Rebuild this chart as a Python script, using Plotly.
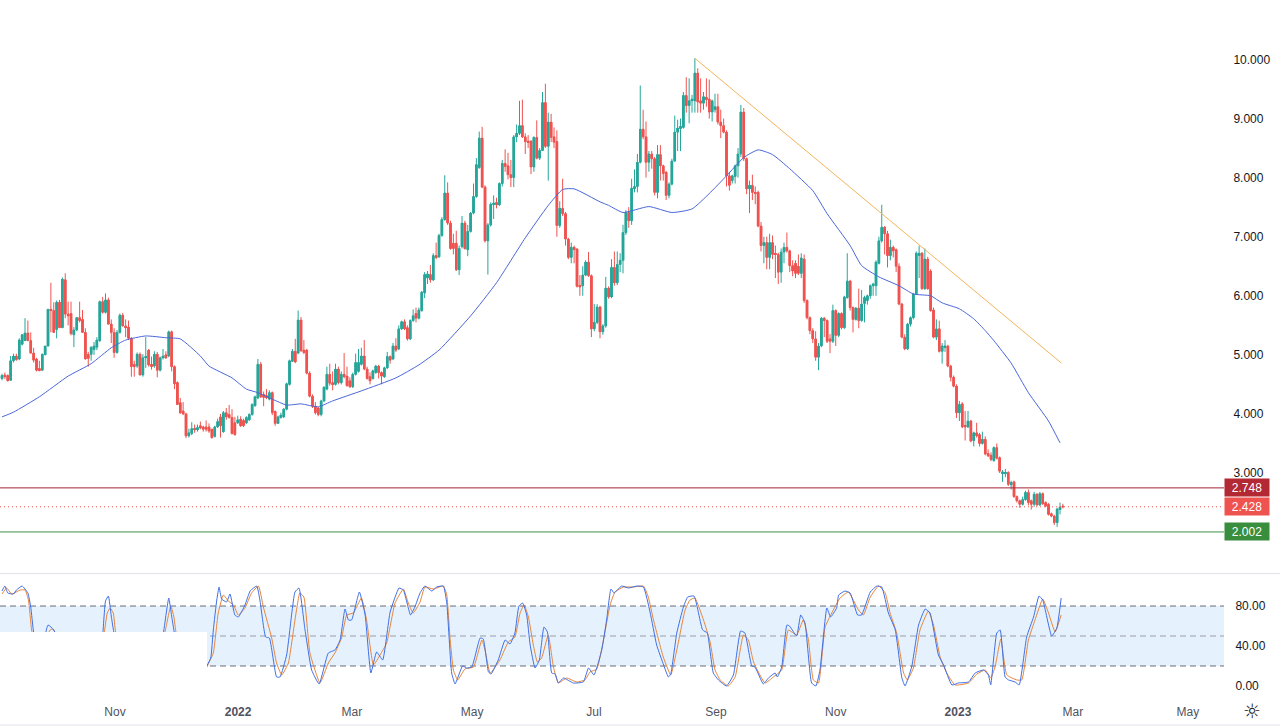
import plotly.graph_objects as go

# daily candles
opens = [
    4.60, 4.66, 4.65, 4.57, 4.90, 4.98, 4.93, 5.18, 5.24, 5.37,
    5.24, 5.03, 4.93, 4.77, 4.74, 5.00, 5.15, 5.77, 5.75, 5.43,
    5.89, 5.46, 6.27, 5.69, 5.70, 5.34, 5.42, 5.63, 5.60, 5.38,
    5.01, 5.01, 5.09, 5.13, 5.24, 5.90, 5.72, 5.93, 5.52, 5.38,
    5.04, 5.38, 5.67, 5.49, 5.47, 5.28, 4.84, 4.81, 5.01, 4.66,
    4.95, 5.08, 4.84, 4.81, 5.01, 4.74, 4.95, 5.00, 4.98, 5.39,
    4.80, 4.53, 4.19, 4.05, 4.00, 3.63, 3.67, 3.75, 3.73, 3.80,
    3.78, 3.78, 3.78, 3.74, 3.62, 3.78, 3.95, 3.70, 4.02, 3.99,
    3.94, 3.85, 3.85, 3.91, 3.89, 3.85, 3.90, 3.99, 4.14, 4.27,
    4.84, 4.33, 4.31, 4.25, 4.36, 4.04, 3.84, 3.94, 3.95, 4.08,
    4.50, 4.89, 5.06, 5.03, 5.59, 5.08, 5.08, 4.69, 4.30, 4.13,
    4.10, 3.99, 4.22, 4.42, 4.67, 4.53, 4.50, 4.76, 4.53, 4.67,
    4.64, 4.56, 4.46, 4.67, 4.72, 4.84, 4.98, 4.76, 4.63, 4.60,
    4.70, 4.81, 4.70, 4.63, 4.78, 4.97, 4.93, 5.15, 5.10, 5.44,
    5.56, 5.46, 5.27, 5.58, 5.70, 5.62, 5.75, 6.05, 6.30, 6.36,
    6.27, 6.68, 6.66, 7.02, 7.29, 7.74, 7.23, 6.89, 6.89, 6.44,
    6.83, 7.23, 6.78, 7.09, 7.40, 7.68, 8.17, 8.67, 7.84, 6.93,
    7.20, 7.55, 7.58, 7.54, 7.90, 8.24, 8.20, 8.05, 8.00, 8.69,
    8.75, 8.88, 8.69, 8.62, 8.62, 8.18, 8.68, 8.33, 8.46, 9.27,
    8.53, 8.94, 8.69, 8.61, 7.19, 7.48, 7.39, 6.96, 6.65, 6.82,
    6.79, 6.17, 6.17, 6.35, 6.57, 6.34, 5.44, 5.55, 5.81, 5.39,
    5.49, 6.13, 5.98, 6.48, 6.22, 6.53, 6.60, 7.07, 7.41, 7.27,
    7.82, 7.85, 8.26, 8.82, 8.69, 8.26, 8.40, 8.32, 7.75, 8.39,
    8.20, 8.09, 7.70, 7.89, 8.28, 8.77, 8.84, 8.85, 9.39, 9.22,
    9.30, 9.30, 9.77, 9.30, 9.26, 9.36, 9.33, 9.11, 9.15, 9.20,
    8.94, 8.88, 8.77, 8.03, 7.95, 8.02, 8.20, 8.40, 9.11, 8.32,
    7.81, 7.87, 7.75, 7.75, 7.18, 6.85, 6.90, 6.65, 6.90, 6.72,
    6.70, 6.40, 6.74, 6.82, 6.76, 6.51, 6.55, 6.50, 6.38, 6.62,
    5.92, 5.63, 5.41, 5.27, 4.96, 5.15, 5.62, 5.58, 5.27, 5.23,
    5.75, 5.33, 5.70, 5.46, 5.97, 6.25, 5.80, 5.60, 5.79, 5.58,
    5.87, 5.92, 6.00, 6.17, 6.17, 6.55, 6.93, 7.16, 7.05, 6.68,
    6.82, 6.78, 6.50, 5.86, 5.30, 5.10, 5.52, 5.63, 6.03, 6.68,
    6.72, 6.12, 6.62, 6.42, 5.76, 5.30, 5.44, 5.06, 5.13, 5.15,
    4.81, 4.62, 4.47, 4.02, 4.17, 3.80, 3.78, 3.88, 3.55, 3.68,
    3.65, 3.50, 3.57, 3.33, 3.30, 3.21, 3.43, 3.26, 2.99, 2.99,
    3.01, 2.80, 2.85, 2.60, 2.53, 2.47, 2.55, 2.67, 2.53, 2.47,
    2.64, 2.46, 2.65, 2.50, 2.47, 2.31, 2.27, 2.16, 2.39, 2.44,
]
highs = [
    4.68, 4.70, 4.67, 4.98, 5.02, 5.02, 5.28, 5.35, 5.62, 5.58,
    5.38, 5.12, 4.95, 4.90, 5.02, 5.15, 5.78, 6.22, 5.89, 5.92,
    5.93, 6.31, 6.38, 5.90, 5.90, 5.47, 5.64, 5.90, 5.76, 5.45,
    5.05, 5.14, 5.22, 5.30, 5.92, 5.98, 6.04, 5.97, 5.60, 5.45,
    5.42, 5.70, 5.71, 5.60, 5.58, 5.30, 4.90, 5.04, 5.04, 5.01,
    5.30, 5.10, 4.97, 5.06, 5.05, 4.97, 5.10, 5.06, 5.41, 5.41,
    4.82, 4.55, 4.27, 4.20, 4.02, 3.75, 3.86, 3.82, 3.82, 3.87,
    3.80, 3.89, 3.84, 3.75, 3.80, 3.92, 4.00, 4.05, 4.10, 4.15,
    4.08, 3.95, 3.97, 3.96, 3.92, 3.96, 4.01, 4.18, 4.31, 4.93,
    4.88, 4.38, 4.42, 4.40, 4.38, 4.06, 3.97, 4.02, 4.10, 4.53,
    4.92, 5.10, 5.27, 5.75, 5.64, 5.25, 5.10, 4.72, 4.33, 4.20,
    4.12, 4.24, 4.47, 4.80, 4.85, 4.72, 4.85, 4.80, 4.72, 5.03,
    4.80, 4.62, 4.70, 5.02, 5.10, 5.12, 5.25, 4.80, 4.70, 4.75,
    4.83, 4.83, 4.72, 4.80, 5.05, 4.99, 5.20, 5.28, 5.50, 5.58,
    5.60, 5.50, 5.60, 5.77, 5.80, 5.80, 6.08, 6.40, 6.42, 6.52,
    6.72, 6.90, 7.05, 7.33, 8.04, 7.92, 7.27, 7.05, 7.10, 6.85,
    7.35, 7.27, 7.20, 7.42, 7.90, 8.33, 8.78, 8.86, 7.87, 7.23,
    7.58, 7.70, 7.66, 7.92, 8.30, 8.48, 8.42, 8.30, 8.72, 8.90,
    9.30, 9.32, 8.75, 8.72, 8.63, 8.70, 8.97, 8.50, 9.45, 9.59,
    9.10, 9.08, 8.85, 8.80, 7.60, 7.98, 7.42, 6.98, 6.90, 6.85,
    6.81, 6.35, 6.50, 6.60, 6.74, 6.36, 5.86, 5.86, 5.83, 5.52,
    6.32, 6.16, 6.62, 6.75, 6.75, 6.72, 7.20, 7.45, 7.50, 7.98,
    8.14, 8.40, 9.56, 9.15, 8.95, 8.45, 8.45, 8.35, 8.55, 8.55,
    8.22, 8.11, 7.92, 8.32, 9.05, 8.98, 9.00, 9.45, 9.70, 9.68,
    9.40, 10.02, 9.85, 9.68, 9.45, 9.68, 9.66, 9.32, 9.42, 9.42,
    9.15, 9.00, 8.80, 8.10, 8.05, 8.22, 8.50, 9.23, 9.18, 8.34,
    7.95, 8.05, 7.85, 7.78, 7.25, 7.00, 7.00, 7.05, 7.02, 6.85,
    6.73, 6.80, 6.90, 7.07, 6.78, 6.60, 6.60, 6.70, 6.72, 6.70,
    5.94, 5.65, 5.45, 5.40, 5.20, 5.64, 5.64, 5.60, 5.35, 5.85,
    5.77, 5.72, 5.72, 6.00, 6.72, 6.27, 5.82, 5.81, 6.12, 6.10,
    6.00, 6.02, 6.19, 6.22, 6.60, 7.00, 7.54, 7.18, 7.10, 6.95,
    6.85, 6.80, 6.55, 5.88, 5.35, 5.54, 5.65, 6.05, 6.75, 6.85,
    6.74, 6.80, 6.66, 6.45, 5.80, 5.60, 5.58, 5.20, 5.25, 5.17,
    4.83, 4.65, 4.50, 4.22, 4.20, 4.05, 4.05, 3.90, 3.70, 3.85,
    3.68, 3.70, 3.62, 3.40, 3.35, 3.45, 3.50, 3.28, 3.05, 3.07,
    3.03, 2.87, 2.87, 2.62, 2.55, 2.60, 2.70, 2.72, 2.55, 2.68,
    2.66, 2.68, 2.67, 2.52, 2.49, 2.33, 2.29, 2.41, 2.50, 2.48,
]
lows = [
    4.57, 4.59, 4.55, 4.56, 4.87, 4.90, 4.91, 5.16, 5.24, 5.24,
    5.02, 4.87, 4.72, 4.72, 4.73, 5.00, 5.14, 5.38, 5.37, 5.28,
    5.46, 5.46, 5.62, 5.50, 5.33, 5.13, 5.40, 5.55, 5.37, 4.92,
    4.80, 4.90, 5.00, 5.08, 5.22, 5.70, 5.70, 5.52, 5.20, 4.95,
    5.02, 5.36, 5.48, 5.30, 5.25, 4.63, 4.63, 4.78, 4.65, 4.63,
    4.78, 4.80, 4.75, 4.78, 4.62, 4.72, 4.92, 4.93, 4.96, 4.72,
    4.42, 4.15, 4.00, 3.98, 3.59, 3.60, 3.64, 3.68, 3.70, 3.74,
    3.70, 3.70, 3.68, 3.58, 3.60, 3.76, 3.60, 3.68, 3.90, 3.92,
    3.65, 3.63, 3.83, 3.78, 3.78, 3.83, 3.88, 3.97, 4.12, 4.25,
    4.27, 4.13, 4.25, 4.23, 3.98, 3.80, 3.83, 3.92, 3.93, 4.06,
    4.48, 4.88, 4.86, 5.01, 5.05, 5.01, 4.67, 4.28, 4.10, 3.99,
    3.96, 3.96, 4.20, 4.40, 4.48, 4.40, 4.48, 4.50, 4.50, 4.60,
    4.46, 4.44, 4.44, 4.65, 4.70, 4.82, 4.74, 4.58, 4.50, 4.58,
    4.68, 4.60, 4.50, 4.61, 4.76, 4.85, 4.91, 5.05, 5.08, 5.42,
    5.42, 5.24, 5.25, 5.56, 5.55, 5.60, 5.73, 5.96, 6.20, 6.22,
    6.25, 6.62, 6.64, 7.00, 7.27, 7.20, 6.78, 6.70, 6.42, 6.35,
    6.80, 6.78, 6.67, 7.07, 7.38, 7.66, 8.15, 7.82, 6.90, 6.36,
    7.17, 7.30, 7.48, 7.52, 7.85, 8.10, 7.97, 7.84, 7.84, 8.60,
    8.72, 8.67, 8.40, 8.50, 8.06, 8.10, 8.31, 8.30, 8.45, 8.50,
    7.95, 8.60, 8.50, 7.00, 7.15, 7.35, 6.85, 6.62, 6.55, 6.55,
    6.14, 6.00, 6.00, 6.33, 6.32, 5.30, 5.40, 5.52, 5.28, 5.34,
    5.46, 5.95, 5.96, 6.17, 6.18, 6.40, 6.38, 7.03, 7.15, 7.20,
    7.75, 7.75, 8.24, 8.65, 8.00, 8.10, 8.15, 7.70, 7.65, 7.95,
    7.95, 7.62, 7.65, 7.87, 8.27, 8.45, 8.45, 8.83, 9.10, 8.92,
    9.10, 9.10, 9.10, 9.10, 9.15, 9.20, 9.00, 8.95, 9.10, 8.90,
    8.67, 8.75, 7.85, 7.78, 7.90, 7.90, 8.00, 8.35, 8.28, 7.72,
    7.40, 7.62, 7.55, 7.16, 6.75, 6.55, 6.45, 6.45, 6.62, 6.30,
    6.20, 6.22, 6.55, 6.73, 6.40, 6.33, 6.30, 6.35, 6.30, 5.88,
    5.60, 5.35, 5.20, 4.90, 4.74, 5.13, 5.30, 5.20, 5.03, 5.20,
    5.15, 5.30, 5.43, 5.44, 5.95, 5.75, 5.38, 5.58, 5.45, 5.56,
    5.55, 5.85, 5.95, 6.00, 6.00, 6.53, 6.90, 6.70, 6.48, 6.60,
    6.65, 6.40, 5.84, 5.28, 5.08, 5.08, 5.48, 5.60, 6.02, 6.30,
    6.10, 6.10, 6.10, 5.73, 5.28, 5.25, 5.04, 4.85, 5.05, 4.79,
    4.55, 4.45, 3.93, 3.88, 3.76, 3.55, 3.76, 3.52, 3.45, 3.60,
    3.45, 3.48, 3.30, 3.27, 3.20, 3.19, 3.23, 3.00, 2.85, 2.93,
    2.78, 2.72, 2.58, 2.50, 2.41, 2.45, 2.53, 2.45, 2.38, 2.43,
    2.44, 2.44, 2.46, 2.42, 2.28, 2.25, 2.12, 2.09, 2.30, 2.40,
]
closes = [
    4.65, 4.64, 4.56, 4.90, 4.98, 4.92, 5.25, 5.34, 5.37, 5.24,
    5.03, 4.91, 4.74, 4.74, 5.01, 5.15, 5.77, 5.75, 5.38, 5.89,
    5.46, 6.28, 5.69, 5.66, 5.36, 5.42, 5.63, 5.58, 5.38, 4.93,
    4.94, 5.13, 5.15, 5.25, 5.90, 5.72, 5.93, 5.52, 5.38, 5.04,
    5.38, 5.67, 5.49, 5.46, 5.28, 4.80, 4.80, 5.01, 4.66, 4.95,
    4.97, 4.83, 4.81, 5.01, 4.74, 4.95, 4.98, 4.95, 5.39, 4.80,
    4.51, 4.16, 4.02, 4.00, 3.63, 3.68, 3.75, 3.73, 3.77, 3.76,
    3.74, 3.74, 3.71, 3.60, 3.78, 3.87, 3.80, 4.02, 3.95, 3.94,
    3.67, 3.65, 3.90, 3.80, 3.80, 3.94, 3.99, 4.16, 4.29, 4.84,
    4.29, 4.28, 4.28, 4.36, 4.02, 3.84, 3.95, 3.98, 4.08, 4.51,
    4.90, 5.06, 4.88, 5.59, 5.07, 5.04, 4.69, 4.30, 4.13, 4.02,
    3.99, 4.22, 4.45, 4.67, 4.52, 4.50, 4.76, 4.53, 4.67, 4.64,
    4.48, 4.46, 4.67, 4.87, 4.87, 4.98, 4.76, 4.60, 4.56, 4.73,
    4.81, 4.70, 4.64, 4.78, 4.97, 4.91, 5.15, 5.08, 5.44, 5.56,
    5.44, 5.27, 5.58, 5.66, 5.62, 5.76, 6.06, 6.36, 6.37, 6.27,
    6.68, 6.65, 7.02, 7.29, 7.74, 7.23, 6.80, 6.80, 6.44, 6.80,
    7.23, 6.80, 7.09, 7.40, 7.68, 8.22, 8.67, 7.84, 6.93, 7.20,
    7.55, 7.57, 7.54, 7.90, 8.24, 8.19, 8.05, 8.00, 8.69, 8.75,
    8.88, 8.69, 8.61, 8.60, 8.18, 8.68, 8.33, 8.46, 9.27, 8.53,
    8.94, 8.68, 8.60, 7.19, 7.48, 7.39, 6.96, 6.65, 6.82, 6.79,
    6.16, 6.15, 6.35, 6.57, 6.34, 5.44, 5.55, 5.81, 5.39, 5.49,
    6.13, 5.98, 6.48, 6.22, 6.53, 6.60, 7.07, 7.41, 7.27, 7.82,
    7.85, 8.26, 8.82, 8.69, 8.26, 8.40, 8.32, 7.75, 8.39, 8.20,
    8.07, 7.70, 7.89, 8.28, 8.77, 8.84, 8.87, 9.39, 9.22, 9.30,
    9.33, 9.77, 9.28, 9.26, 9.37, 9.33, 9.11, 9.30, 9.20, 8.94,
    8.88, 8.77, 8.03, 7.87, 8.03, 8.20, 8.40, 9.11, 8.32, 7.81,
    7.87, 7.75, 7.73, 7.18, 6.85, 6.90, 6.65, 6.90, 6.70, 6.70,
    6.40, 6.74, 6.82, 6.76, 6.51, 6.42, 6.38, 6.38, 6.64, 5.92,
    5.63, 5.41, 5.27, 4.96, 5.15, 5.62, 5.58, 5.23, 5.23, 5.75,
    5.33, 5.70, 5.46, 5.98, 6.25, 5.80, 5.60, 5.79, 5.58, 5.86,
    5.97, 6.00, 6.17, 6.20, 6.57, 6.93, 7.16, 7.05, 6.68, 6.82,
    6.76, 6.50, 5.86, 5.30, 5.10, 5.52, 5.63, 6.03, 6.72, 6.72,
    6.12, 6.62, 6.12, 5.75, 5.30, 5.44, 5.06, 5.15, 5.15, 4.81,
    4.62, 4.47, 4.02, 4.16, 3.78, 3.78, 3.88, 3.54, 3.68, 3.63,
    3.50, 3.57, 3.32, 3.29, 3.23, 3.43, 3.25, 3.03, 3.02, 3.01,
    2.81, 2.84, 2.60, 2.53, 2.47, 2.55, 2.67, 2.50, 2.47, 2.64,
    2.46, 2.65, 2.48, 2.44, 2.30, 2.27, 2.16, 2.39, 2.42, 2.428,
]
bars = list(range(len(closes)))

# moving average, read at the bars where it bends
ma_bars = [0, 4, 13, 23, 31, 38, 43, 50, 57, 62, 69, 72, 80, 85, 89, 94, 99, 104, 110, 115,
           125, 137, 145, 152, 163, 172, 182, 190, 195, 199, 208, 211, 216, 225, 233, 240,
           246, 252, 258, 263, 268, 274, 282, 287, 295, 299, 305, 312, 317, 323, 327, 333,
           338, 342, 345, 351, 357, 364, 368]
ma_vals = [3.95, 4.03, 4.29, 4.64, 4.85, 5.12, 5.25, 5.32, 5.29, 5.27, 4.98, 4.81, 4.61, 4.42,
           4.36, 4.25, 4.15, 4.17, 4.12, 4.22, 4.39, 4.61, 4.83, 5.08, 5.66, 6.22, 6.98, 7.53,
           7.80, 7.81, 7.59, 7.53, 7.41, 7.51, 7.41, 7.47, 7.73, 8.03, 8.34, 8.47, 8.39, 8.15,
           7.78, 7.39, 6.85, 6.51, 6.32, 6.17, 6.03, 6.00, 5.88, 5.78, 5.61, 5.41, 5.24, 4.86,
           4.36, 3.88, 3.51]

# trend line ends
trend_bars = [241, 368.5]
trend_vals = [10.02, 4.86]

# levels and their tags
level_vals = [2.748, 2.428, 2.002]
level_text = ["2.748", "2.428", "2.002"]

# stochastic %K
k_bars = [0, 1, 2, 4, 5, 7, 9, 10, 11, 13, 16, 18, 20, 24, 30, 34, 35, 36, 37, 38, 39, 41, 46, 52,
          55, 56, 58, 59, 60, 62, 66, 70, 71.4, 72.6, 73.5, 74.7, 75.5, 76.4, 78.1, 79.3, 81, 82.2,
          84.5, 86.3, 88.6, 89.7, 91.7, 93, 95.5, 96.7, 99, 100.8, 101.9, 103.3, 105.4, 107.7,
          110.3, 113.5, 115.8, 117.6, 119.3, 120.5, 121.6, 124.3, 126.3, 128.3, 130.3, 132.4, 135,
          138.1, 139.6, 142.1, 143.6, 145.4, 147.1, 149.5, 151.2, 153.5, 154.7, 156.4, 157.6,
          160.2, 161.6, 163.4, 166.3, 167.4, 169.2, 170.1, 172.6, 175, 176.7, 178.4, 179.8, 181.1,
          182.5, 183.7, 185.4, 186.9, 188.5, 189.7, 191.2, 192.4, 193.5, 195.3, 198.7, 202.2, 204,
          205.9, 208.6, 210.3, 211.8, 212.9, 215.5, 217.9, 220.8, 223.1, 225.4, 227.7, 229.5,
          231.8, 232.6, 234.7, 237, 238.5, 240.7, 243.7, 245.3, 247.4, 249.2, 252, 254.4, 256.9,
          258.4, 260.8, 261.9, 264.8, 266.6, 268.9, 269.7, 271.2, 273, 273.9, 276.4, 277.8, 279.3,
          281.6, 283.1, 284.5, 286.9, 288.2, 290.3, 291, 293.2, 295, 297.6, 299, 302, 304.3, 306,
          308.3, 310.7, 313, 314.1, 316.4, 318.8, 321.1, 322.8, 325.7, 327.5, 330.4, 332.7, 336.2,
          338.5, 341.4, 343.1, 343.9, 346, 347.2, 348.9, 350.1, 352.4, 353.8, 356.4, 358.8, 360.7,
          362, 365.1, 366.9, 368.4]
k_vals = [95, 100, 93, 92, 96, 100, 93, 79, 53, 25, 61, 56, 40, 15, 10, 30, 50, 85, 90, 70, 52, 30,
          12, 15, 35, 50, 88, 70, 52, 20, 5, 12, 21, 28, 56, 86, 99, 87, 84, 92, 71, 69,
          81, 95, 100, 86, 49, 48, 9, 9, 31, 73, 94, 98, 56, 16,
          2, 33, 36, 46, 77, 66, 66, 94, 71, 13, 34, 26, 74,
          98, 96, 71, 79, 93, 100, 95, 99, 100, 83, 13, 2,
          20, 18, 19, 48, 47, 14, 12, 26, 46, 42, 53, 80, 83,
          71, 41, 18, 26, 59, 54, 13, 12, 3, 8, 3, 4, 18,
          11, 36, 66, 97, 93, 100, 98, 100, 99, 74, 41, 26,
          9, 12, 53, 79, 89, 90, 56, 53, 13, 6, 0, 11, 55,
          53, 20, 19, 2, 8, 13, 9, 19, 61, 60, 50, 71, 63,
          3, 0, 16, 78, 69, 78, 91, 95, 93, 71, 71, 94, 100, 99,
          73, 56, 8, 0, 19, 61, 77, 73, 31, 21, 1, 3, 4,
          13, 16, 11, 1, 53, 56, 9, 6, 4, 1, 49, 69, 90,
          86, 50, 58, 88]

# stochastic %D
d_bars = [0, 1.6, 3.4, 6.3, 8, 9.2, 10.3, 12, 14, 16.7, 17.8, 20, 24, 30, 34, 35.6, 36.6, 37.6, 38.7,
          39.5, 42, 47, 52, 55, 56.7, 58.7, 59.8, 60.5, 65, 70, 71.4, 73.5, 75.2, 77, 78.7, 80.5,
          82.2, 84.5, 86.8, 89.2, 90.9, 93.8, 95.5, 97.3, 99.6, 101.9, 103.6, 105, 107.1, 110.6,
          113.5, 115.8, 118.1, 119.9, 122.2, 125, 126.8, 129.2, 131.5, 133.8, 136.7, 139.6, 141.3,
          143, 145.4, 147.1, 150, 153.5, 154.7, 155.8, 157, 158.5, 161, 164, 166.9, 168, 169.8,
          173.2, 176.1, 178.4, 180.2, 181.6, 183.1, 184.8, 186.2, 187.7, 190, 191.8, 193.5, 196.4,
          199.9, 202.8, 204.5, 206.9, 209.2, 211.5, 213.2, 216.1, 219.6, 223.1, 224.8, 226.6, 230,
          232.6, 234.7, 237.6, 239.3, 241, 244, 246.3, 248, 249.8, 252.6, 255, 257.9, 259.6, 261.4,
          265.4, 268.3, 271.2, 273.5, 276.4, 278.7, 280.5, 282.2, 284, 286.3, 288.6, 291.5, 294.4,
          297.9, 299.6, 302, 304.9, 307.2, 308.9, 311.2, 313.6, 314.9, 317, 319.3, 322.2, 324,
          326.3, 328.6, 331.5, 336.2, 339.1, 342, 343.9, 345.4, 347.4, 349.5, 353, 354.7, 357,
          359.3, 362, 364, 366.3, 368.4]
d_vals = [92, 98, 92, 96, 96, 86, 56, 35, 40, 56, 57, 42, 18, 10, 28, 54, 73, 78, 73,
          54, 30, 12, 14, 32, 54, 80, 69, 54, 10, 12, 20, 33, 73, 91, 85, 81,
          71, 78, 93, 100, 79, 48, 23, 11, 23, 66, 93, 89, 33, 3,
          23, 33, 48, 71, 73, 88, 66, 21, 31, 43, 83, 97, 83,
          73, 84, 99, 97, 100, 91, 49, 16, 6, 17, 19, 46, 36, 13,
          26, 44, 49, 73, 81, 69, 41, 24, 28, 51, 19, 3, 8,
          4, 6, 14, 17, 46, 81, 94, 99, 99, 100, 89, 66, 29,
          11, 36, 76, 86, 88, 66, 44, 16, 6, 0, 9, 51, 46, 24,
          3, 9, 16, 56, 51, 66, 46, 6, 3, 59, 73, 88, 94,
          76, 71, 89, 100, 93, 73, 53, 13, 6, 18, 56, 75, 61,
          29, 13, 1, 3, 12, 16, 8, 19, 47, 11, 6, 6, 46,
          66, 87, 73, 54, 71]

# stochastic bands
band_lines = [80, 50, 20]
stoch_ticks = [0, 40, 80]

# time axis
tick_bars = [39.3, 82.1, 121.7, 163.5, 205.9, 248.3, 290, 332.5, 372.5, 412.5]
tick_text = ["Nov", "<b>2022</b>", "Mar", "May", "Jul", "Sep", "Nov", "<b>2023</b>", "Mar", "May"]
price_ticks = [3, 4, 5, 6, 7, 8, 9, 10]

GREEN = "#26a69a"
RED = "#ef5350"
FONT = dict(family="Liberation Sans", size=12, color="#131722")

fig = go.Figure()

fig.add_trace(go.Candlestick(
    x=bars, open=opens, high=highs, low=lows, close=closes,
    increasing=dict(line=dict(color=GREEN, width=1), fillcolor=GREEN),
    decreasing=dict(line=dict(color=RED, width=1), fillcolor=RED),
    whiskerwidth=0, xaxis="x", yaxis="y", showlegend=False,
))
# thicker bodies on top, the candlestick trace draws them too thin at this spacing
fig.add_trace(go.Bar(
    x=bars,
    base=[min(o, c) for o, c in zip(opens, closes)],
    y=[abs(c - o) for o, c in zip(opens, closes)],
    width=0.9,
    marker=dict(color=[GREEN if c >= o else RED for o, c in zip(opens, closes)], line=dict(width=0)),
    showlegend=False,
))
fig.add_trace(go.Scatter(x=ma_bars, y=ma_vals, mode="lines", showlegend=False,
                         line=dict(color="#4a66d8", width=1, shape="spline", smoothing=0.5)))
fig.add_trace(go.Scatter(x=trend_bars, y=trend_vals, mode="lines", showlegend=False,
                         line=dict(color="#f2b45c", width=1)))

fig.add_trace(go.Scatter(x=d_bars, y=d_vals, mode="lines", xaxis="x2", yaxis="y2", showlegend=False,
                         line=dict(color="#e8853a", width=1, shape="spline", smoothing=0.4)))
fig.add_trace(go.Scatter(x=k_bars, y=k_vals, mode="lines", xaxis="x2", yaxis="y2", showlegend=False,
                         line=dict(color="#3f6fe6", width=1, shape="spline", smoothing=0.4)))

x_range = [-0.7, 425.04]
level_colors = ["#a62435", RED, "#3f8f45"]
tag_colors = ["#b22833", RED, "#388e3c"]
level_dash = ["solid", "1px,3px", "solid"]

shapes = []
for val, col, dash in zip(level_vals, level_colors, level_dash):
    shapes.append(dict(type="line", xref="paper", x0=0, x1=1, yref="y", y0=val, y1=val,
                       line=dict(color=col, width=1, dash=dash), layer="above"))

# stochastic band and its dashed limits
shapes.append(dict(type="rect", xref="paper", x0=0, x1=1, yref="y2", y0=band_lines[2], y1=band_lines[0],
                   fillcolor="#e5f2fd", line=dict(width=0), layer="below"))
for val, col in zip(band_lines, ["#6a6d78", "#9a9da6", "#6a6d78"]):
    shapes.append(dict(type="line", xref="paper", x0=0, x1=1, yref="y2", y0=val, y1=val,
                       line=dict(color=col, width=1, dash="6px,4px"), layer="below"))

# white patch over the lower left of the pane
shapes.append(dict(type="rect", xref="x2", x0=-1, x1=71.3, yref="y2", y0=-14, y1=54,
                   fillcolor="white", line=dict(width=0), layer="above"))

# pane separators, these run under the price scale too
for y_pos in [0.2122, 0.004]:
    shapes.append(dict(type="line", xref="paper", x0=0, x1=1.0458, yref="paper", y0=y_pos, y1=y_pos,
                       line=dict(color="#e0e3eb", width=1)))

annotations = []
for val, txt, col in zip(level_vals, level_text, tag_colors):
    annotations.append(dict(x=1, xref="paper", xanchor="left", y=val, yref="y", text=txt, showarrow=False,
                            bgcolor=col, width=44, height=17, borderpad=0, align="center",
                            font=dict(family="Liberation Sans", size=12, color="white")))
annotations.append(dict(x=1.0229, xref="paper", xanchor="center", y=0.0234, yref="paper", yanchor="middle",
                        text="☼", showarrow=False,
                        font=dict(family="DejaVu Sans", size=20, color="#131722")))

fig.update_layout(
    width=1280, height=728,
    margin=dict(l=0, r=56, t=0, b=0),
    paper_bgcolor="white", plot_bgcolor="white",
    font=FONT,
    shapes=shapes,
    annotations=annotations,
    hovermode=False,
    barmode="overlay",
    xaxis=dict(domain=[0, 1], range=x_range, showticklabels=False, showgrid=False, zeroline=False,
               rangeslider=dict(visible=False), anchor="y"),
    yaxis=dict(domain=[0.2129, 1], range=[1.307, 11.007], side="right", anchor="x", tickvals=price_ticks,
               tickformat=".3f", showgrid=False, zeroline=False, showline=False,
               ticks="outside", ticklen=6, tickcolor="rgba(0,0,0,0)"),
    xaxis2=dict(domain=[0, 1], range=x_range, tickvals=tick_bars, ticktext=tick_text, showgrid=False,
                zeroline=False, showline=False, anchor="y2", ticks="", ticklabelstandoff=3,
                tickfont=dict(family="Liberation Sans", size=12, color="#50535e")),
    yaxis2=dict(domain=[0.0385, 0.2115], range=[-14, 112], side="right", anchor="x2", tickvals=stoch_ticks,
                tickformat=".2f", showgrid=False, zeroline=False, showline=False,
                ticks="outside", ticklen=8, tickcolor="rgba(0,0,0,0)"),
)

# the page's default body margin would shift the chart by 8px
fig.write_html("out.html", config={"displayModeBar": False},
               post_script="document.body.style.margin='0';document.body.style.overflow='hidden';")
